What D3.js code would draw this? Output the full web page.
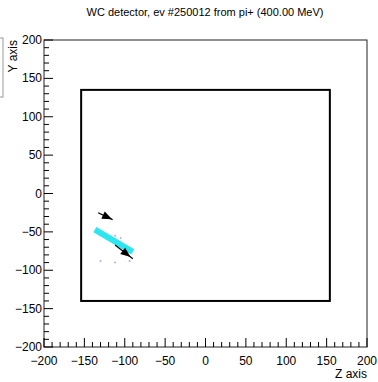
<!doctype html>
<html>
<head>
<meta charset="utf-8">
<script src="https://d3js.org/d3.v7.min.js"></script>
<style>
  body { margin: 0; background: #fff; }
  text { font-family: "Liberation Sans", Arial, sans-serif; fill: #000; }
</style>
</head>
<body>
<script>
// axis ticks
var zTicks = [-200, -150, -100, -50, 0, 50, 100, 150, 200];
var yTicks = [-200, -150, -100, -50, 0, 50, 100, 150, 200];

// detector outline (z, y)
var detZ = [-154, 154];
var detY = [-140, 135];

// cyan track segment
var trackZ = [-137, -90];
var trackY = [-47, -76];

// arrows: start/end points
var arrowZ0 = [-133, -112];
var arrowY0 = [-25, -67];
var arrowZ1 = [-115, -90];
var arrowY1 = [-34, -85];

// faint hit points
var hitZ = [-125, -118, -112, -130, -112, -94, -105];
var hitY = [-53, -56, -55, -88, -90, -88, -58];

var W = 378, H = 382;
var svg = d3.select("body").append("svg").attr("width", W).attr("height", H);

var x = d3.scaleLinear().domain([-200, 200]).range([44, 367]);
var y = d3.scaleLinear().domain([-200, 200]).range([347, 40]);

// cut-off box at top left
svg.append("rect")
    .attr("x", -20).attr("y", 38).attr("width", 23).attr("height", 59)
    .attr("fill", "none").attr("stroke", "#999").attr("stroke-width", 1);

// title
svg.append("text")
    .attr("x", 205).attr("y", 16)
    .attr("text-anchor", "middle")
    .attr("font-size", 11)
    .text("WC detector, ev #250012 from pi+ (400.00 MeV)");

// frame
svg.append("rect")
    .attr("x", x(-200)).attr("y", y(200))
    .attr("width", x(200) - x(-200)).attr("height", y(-200) - y(200))
    .attr("fill", "none").attr("stroke", "#222").attr("stroke-width", 1);

// minor ticks
var minor = d3.range(-200, 201, 10);
svg.append("g").selectAll("line").data(minor).join("line")
    .attr("x1", function(d){ return x(d); }).attr("x2", function(d){ return x(d); })
    .attr("y1", y(-200)).attr("y2", function(d){ return y(-200) - (d % 50 === 0 ? 9 : 5); })
    .attr("stroke", "#000");
svg.append("g").selectAll("line").data(minor).join("line")
    .attr("y1", function(d){ return y(d); }).attr("y2", function(d){ return y(d); })
    .attr("x1", x(-200)).attr("x2", function(d){ return x(-200) + (d % 50 === 0 ? 9 : 5); })
    .attr("stroke", "#000");

// tick labels
svg.append("g").selectAll("text").data(zTicks).join("text")
    .attr("x", function(d){ return x(d); })
    .attr("y", 365)
    .attr("text-anchor", "middle")
    .attr("font-size", 12)
    .text(function(d){ return d < 0 ? "\u2212" + (-d) : d; });
svg.append("g").selectAll("text").data(yTicks).join("text")
    .attr("x", x(-200) - 2)
    .attr("y", function(d){ return y(d) + 4; })
    .attr("text-anchor", "end")
    .attr("font-size", 12)
    .text(function(d){ return d < 0 ? "\u2212" + (-d) : d; });

// axis titles
svg.append("text")
    .attr("x", 367).attr("y", 378)
    .attr("text-anchor", "end")
    .attr("font-size", 12)
    .text("Z axis");
svg.append("text")
    .attr("transform", "translate(17,40) rotate(-90)")
    .attr("text-anchor", "end")
    .attr("font-size", 12)
    .text("Y axis");

// detector outline
svg.append("rect")
    .attr("x", x(detZ[0])).attr("y", y(detY[1]))
    .attr("width", x(detZ[1]) - x(detZ[0])).attr("height", y(detY[0]) - y(detY[1]))
    .attr("fill", "none").attr("stroke", "#000").attr("stroke-width", 2);

// faint hits
svg.append("g").selectAll("circle").data(hitZ).join("circle")
    .attr("cx", function(d){ return x(d); })
    .attr("cy", function(d, i){ return y(hitY[i]); })
    .attr("r", 1)
    .attr("fill", "#aab0f0");

// cyan track
svg.append("line")
    .attr("x1", x(trackZ[0])).attr("y1", y(trackY[0]))
    .attr("x2", x(trackZ[1])).attr("y2", y(trackY[1]))
    .attr("stroke", "#2ee6f0").attr("stroke-width", 6);

// arrows
svg.append("defs").append("marker")
    .attr("id", "ah").attr("viewBox", "0 0 10 10")
    .attr("refX", 5).attr("refY", 5)
    .attr("markerWidth", 9).attr("markerHeight", 9)
    .attr("markerUnits", "userSpaceOnUse")
    .attr("orient", "auto")
  .append("path").attr("d", "M0,0 L10,5 L0,10 Z").attr("fill", "#000");

svg.append("g").selectAll("line").data(arrowZ0).join("line")
    .attr("x1", function(d){ return x(d); })
    .attr("y1", function(d, i){ return y(arrowY0[i]); })
    .attr("x2", function(d, i){ return x(arrowZ1[i]); })
    .attr("y2", function(d, i){ return y(arrowY1[i]); })
    .attr("stroke", "#000").attr("stroke-width", 1.2)
    .attr("marker-mid", "url(#ah)");

// put arrowheads in the middle of each segment
svg.selectAll("g:last-child line").each(function(){
  var s = d3.select(this);
  var x1 = +s.attr("x1"), y1 = +s.attr("y1"), x2 = +s.attr("x2"), y2 = +s.attr("y2");
  var mx = (x1 + x2) / 2 + (x2 - x1) * 0.15, my = (y1 + y2) / 2 + (y2 - y1) * 0.15;
  var a = Math.atan2(y2 - y1, x2 - x1) * 180 / Math.PI;
  svg.append("path")
      .attr("d", "M-5,-4 L5,0 L-5,4 Z")
      .attr("transform", "translate(" + mx + "," + my + ") rotate(" + a + ")")
      .attr("fill", "#000");
});
</script>
</body>
</html>
